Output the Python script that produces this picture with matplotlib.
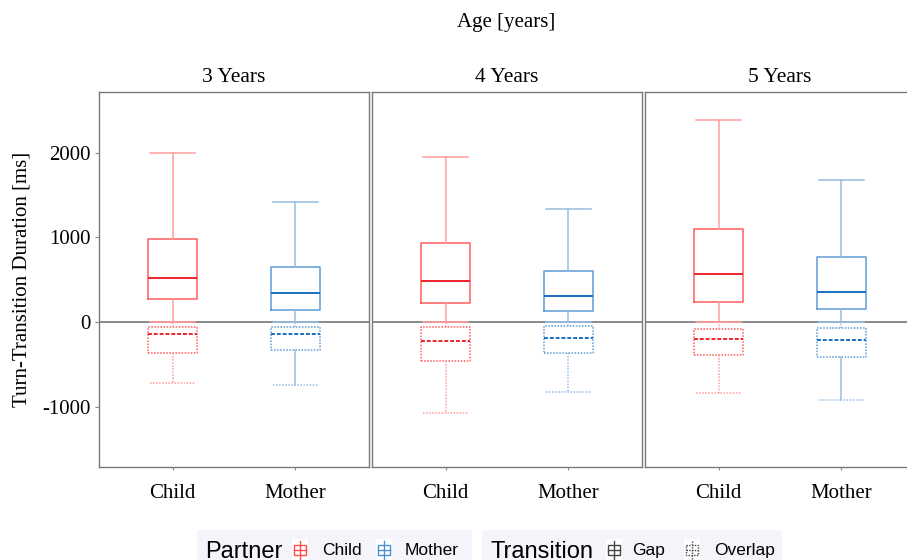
import matplotlib
matplotlib.use('Agg')
import matplotlib.pyplot as plt
from matplotlib.lines import Line2D
from matplotlib.patches import Rectangle
from matplotlib.transforms import Affine2D

ages = ['3 Years', '4 Years', '5 Years']
partners = ['Child', 'Mother']

# box summaries per age: lower whisker, q1, median, q3, upper whisker (ms)
gap_child = [[0, 272, 524, 979, 2003], [0, 228, 489, 931, 1956], [0, 233, 568, 1097, 2382]]
gap_mother = [[0, 142, 339, 655, 1424], [0, 134, 308, 607, 1337], [0, 150, 351, 766, 1680]]
overlap_child = [[-718, -371, -138, -55, 0], [-1073, -458, -221, -63, 0], [-832, -394, -197, -83, 0]]
overlap_mother = [[-749, -331, -138, -55, 0], [-828, -371, -189, -51, 0], [-919, -414, -217, -67, 0]]

y_ticks = [-1000, 0, 1000, 2000]

W, H = 907, 560
SERIF = 'Liberation Serif'
SANS = 'Liberation Sans'

colors = {
    'Child': dict(box='#ff5c5c', whisk='#ff9c9c', med='#ee2229'),
    'Mother': dict(box='#5f9bd6', whisk='#98bce2', med='#1b6ec2'),
}
DOT = (0, (1, 1))
DASH = (0, (2, 1))


def stats(row):
    lo, q1, med, q3, hi = row
    return dict(whislo=lo, q1=q1, med=med, q3=q3, whishi=hi, fliers=[])


def draw_box(ax, row, pos, partner, overlap, solid_low=False):
    c = colors[partner]
    ls = DOT if overlap else '-'
    art = ax.bxp([stats(row)], positions=[pos], widths=0.4, capwidths=0.37,
                 showfliers=False, manage_ticks=False,
                 boxprops=dict(color=c['box'], lw=1.1, ls=ls),
                 whiskerprops=dict(color=c['whisk'], lw=1.1, ls=ls),
                 capprops=dict(color=c['whisk'], lw=1.1, ls=ls),
                 medianprops=dict(color=c['med'], lw=1.4, ls=DASH if overlap else '-'))
    if solid_low:
        art['whiskers'][0].set_linestyle('-')
    return art


fig = plt.figure(figsize=(W / 100, H / 100), dpi=100)
pix = Affine2D().scale(1 / W, -1 / H).translate(0, 1) + fig.transFigure

panel_left = [99, 372, 645]
panel_w, top, bottom = 270, 92, 467

for i, age in enumerate(ages):
    ax = fig.add_axes([panel_left[i] / W, 1 - bottom / H, panel_w / W, (bottom - top) / H])
    ax.axhline(0, color='#8a8a8a', lw=1.4, zorder=0)
    for j, partner in enumerate(partners):
        gap = gap_child if partner == 'Child' else gap_mother
        ovl = overlap_child if partner == 'Child' else overlap_mother
        draw_box(ax, gap[i], j + 1, partner, False)
        draw_box(ax, ovl[i], j + 1, partner, True,
                 solid_low=(partner == 'Mother' and age != '4 Years'))
    ax.set_xlim(0.4, 2.6)
    ax.set_ylim(-1712, 2718)
    ax.set_xticks([1, 2])
    ax.set_xticklabels(partners, fontfamily=SERIF, fontsize=15)
    ax.set_yticks(y_ticks)
    if i == 0:
        ax.set_yticklabels([str(v) for v in y_ticks], fontfamily=SERIF, fontsize=15)
        ax.set_ylabel('Turn-Transition Duration [ms]', fontfamily=SERIF, fontsize=15, labelpad=8)
        ax.tick_params(axis='y', length=3, color='#888888', pad=3)
    else:
        ax.tick_params(axis='y', length=0, labelleft=False)
    ax.tick_params(axis='x', length=2, color='#888888', pad=10)
    for sp in ax.spines.values():
        sp.set_color('#7a7a7a')
        sp.set_linewidth(1.0)
    ax.set_title(age, fontfamily=SERIF, fontsize=15.5, pad=7)

fig.text(506 / W, 1 - 22 / H, 'Age [years]', ha='center', va='center',
         fontfamily=SERIF, fontsize=15)


# legend strip along the bottom edge
def key_glyph(x, color, ls):
    fig.add_artist(Rectangle((x - 8, 539), 16, 22, transform=pix, facecolor='white',
                             edgecolor='none'))
    kw = dict(transform=pix, color=color, lw=1.0, ls=ls)
    fig.add_artist(Line2D([x, x], [541, 560], **kw))
    fig.add_artist(Rectangle((x - 6, 545), 12, 10, transform=pix, facecolor='white',
                             edgecolor=color, lw=1.0, ls=ls))
    fig.add_artist(Line2D([x - 6, x + 6], [550, 550], **kw))


fig.add_artist(Rectangle((197, 530), 275, 32, transform=pix, facecolor='#f4f4fa', edgecolor='none'))
fig.add_artist(Rectangle((482, 530), 300, 32, transform=pix, facecolor='#f4f4fa', edgecolor='none'))

big_y, small_y = 558, 555
fig.text(205 / W, 1 - big_y / H, 'Partner', fontfamily=SANS, fontsize=17, va='baseline')
key_glyph(300, '#ff4d4d', '-')
fig.text(322 / W, 1 - small_y / H, 'Child', fontfamily=SANS, fontsize=12.5, va='baseline')
key_glyph(384, '#4a8fd4', '-')
fig.text(405 / W, 1 - small_y / H, 'Mother', fontfamily=SANS, fontsize=12.5, va='baseline')

fig.text(490 / W, 1 - big_y / H, 'Transition', fontfamily=SANS, fontsize=17, va='baseline')
key_glyph(614, '#444444', '-')
fig.text(632 / W, 1 - small_y / H, 'Gap', fontfamily=SANS, fontsize=12.5, va='baseline')
key_glyph(692, '#444444', DOT)
fig.text(714 / W, 1 - small_y / H, 'Overlap', fontfamily=SANS, fontsize=12.5, va='baseline')

fig.savefig('out.png', dpi=100)
